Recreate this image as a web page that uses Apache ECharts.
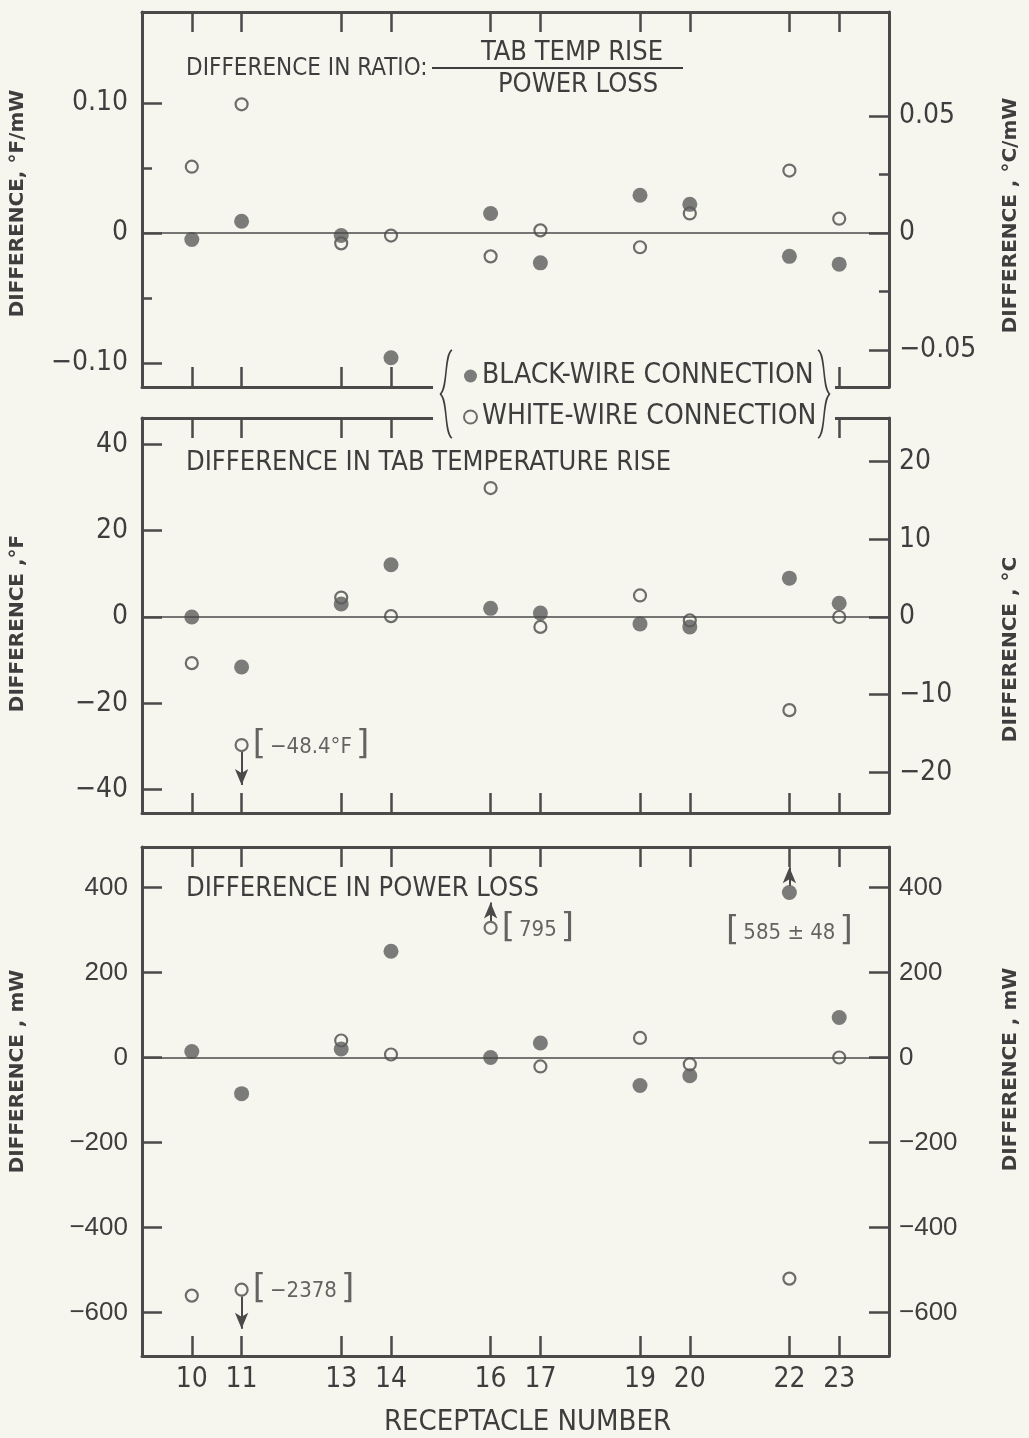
<!DOCTYPE html>
<html>
<head>
<meta charset="utf-8">
<title>Receptacle differences</title>
<script src="https://cdn.jsdelivr.net/npm/echarts@6.0.0/dist/echarts.min.js"></script>
<style>
  html, body { margin: 0; padding: 0; background: #f6f6ef; }
  #chart { width: 1029px; height: 1438px; }
</style>
</head>
<body>
<div id="chart"></div>
<script>
// receptacle numbers on the bottom axis
const receptacles = [10, 11, 13, 14, 16, 17, 19, 20, 22, 23];

// difference in ratio tab temp rise / power loss, °F/mW
const ratioBlack = [-0.005, 0.009, -0.002, -0.096, 0.015, -0.023, 0.029, 0.022, -0.018, -0.024];
const ratioWhite = [0.051, 0.099, -0.008, -0.002, -0.018, 0.002, -0.011, 0.015, 0.048, 0.011];

// difference in tab temperature rise, °F
const tempBlack = [0, -11.6, 3.0, 12.1, 2.0, 0.9, -1.6, -2.3, 9.0, 3.2];
const tempWhite = [-10.7, -29.7, 4.5, 0.2, 29.9, -2.3, 5.0, -0.8, -21.6, 0];

// difference in power loss, mW
const powerBlack = [14, -85, 20, 250, 0, 34, -66, -43, 388, 94];
const powerWhite = [-560, -546, 40, 7, 305, -21, 46, -16, -520, 0];

// tick labels
const ratioTicksF = [-0.1, 0, 0.1];
const ratioMinorF = [-0.05, 0.05];
const ratioTicksC = [-0.05, 0, 0.05];
const ratioMinorC = [-0.025, 0.025];
const tempTicksF = [-40, -20, 0, 20, 40];
const tempTicksC = [-20, -10, 0, 10, 20];
const powerTicks = [-600, -400, -200, 0, 200, 400];

// points drawn at the edge of the plot, true value given in brackets
const offScale = [
  { panel: 1, wire: 'white', receptacle: 11, text: '\u221248.4\u00b0F', dir: -1 },
  { panel: 2, wire: 'white', receptacle: 11, text: '\u22122378', dir: -1 },
  { panel: 2, wire: 'white', receptacle: 16, text: '795', dir: 1 },
  { panel: 2, wire: 'black', receptacle: 22, text: '585 \u00b1 48', dir: 1 }
];

const bg = '#f6f6ef';
const ink = '#3e3e3e';
const frame = '#4a4a4a';
const narrow = '"Liberation Sans Narrow", "DejaVu Sans Condensed", "Liberation Sans", sans-serif';
const wide = '"Liberation Sans", "DejaVu Sans", sans-serif';

// layout of the three panels (pixels) and their left-axis ranges
// shiftL / shiftR move the side titles along the axis (px, + is up)
const panels = [
  { top: 12, height: 375, min: -0.1185, max: 0.170, k: 1.8, ticks: ratioTicksF, rTicks: ratioTicksC,
    nameL: 'DIFFERENCE, \u00b0F/mW', nameR: 'DIFFERENCE , \u00b0C/mW', font: narrow, shiftL: -4, shiftR: -16 },
  { top: 418, height: 395, min: -45.45, max: 46.14, k: 1.8, ticks: tempTicksF, rTicks: tempTicksC,
    nameL: 'DIFFERENCE ,\u00b0F', nameR: 'DIFFERENCE , \u00b0C', font: narrow, shiftL: -8, shiftR: -34 },
  { top: 847, height: 522, min: -702, max: 495, k: 1, ticks: powerTicks, rTicks: powerTicks,
    nameL: 'DIFFERENCE , mW', nameR: 'DIFFERENCE , mW', font: wide, shiftL: 30, shiftR: 32 }
];

function fmt(v) {
  let s;
  if (v === 0) s = '0';
  else if (Math.abs(v) < 1) s = Math.abs(v).toFixed(2);
  else s = String(Math.abs(v));
  return v < 0 ? '\u2212' + s : s;
}

function namePad(shift) {
  // padding on one end of the rotated text slides it along the axis
  return shift >= 0 ? [0, 0, 0, shift * 2] : [0, -shift * 2, 0, 0];
}

const grid = [];
const xAxis = [];
const yAxis = [];
const series = [];

panels.forEach(function (p, i) {
  grid.push({ left: 138, right: 132, top: p.top, height: p.height, containLabel: false });
  const last = i === panels.length - 1;
  ['bottom', 'top'].forEach(function (pos) {
    xAxis.push({
      gridIndex: i, type: 'value', position: pos, min: 9, max: 24,
      axisLine: { show: true, onZero: false, lineStyle: { color: frame, width: 3 } },
      axisTick: { show: true, inside: true, length: 20, customValues: receptacles,
        lineStyle: { color: frame, width: 2.5 } },
      axisLabel: { show: last && pos === 'bottom', customValues: receptacles, margin: 10,
        fontFamily: narrow, fontSize: 28, color: ink },
      splitLine: { show: false },
      name: last && pos === 'bottom' ? 'RECEPTACLE NUMBER' : '',
      nameLocation: 'middle', nameGap: 52,
      nameTextStyle: { fontFamily: narrow, fontSize: 29, color: ink, padding: [0, 0, 0, 24] }
    });
  });
  const nameStyle = { fontFamily: 'DejaVu Sans', fontWeight: 'bold', fontSize: 20, color: ink };
  p.yLeft = yAxis.length;
  yAxis.push({
    gridIndex: i, type: 'value', position: 'left', min: p.min, max: p.max,
    axisLine: { show: true, onZero: false, lineStyle: { color: frame, width: 3 } },
    axisTick: { show: true, inside: true, length: 20, customValues: p.ticks,
      lineStyle: { color: frame, width: 2.5 } },
    axisLabel: { customValues: p.ticks, formatter: fmt, margin: 14,
      fontFamily: p.font, fontSize: i === 2 ? 26 : 28, color: ink },
    splitLine: { show: false },
    name: p.nameL, nameLocation: 'middle', nameRotate: 90, nameGap: 114,
    nameTextStyle: Object.assign({ padding: namePad(p.shiftL) }, nameStyle)
  });
  yAxis.push({
    gridIndex: i, type: 'value', position: 'right', min: p.min / p.k, max: p.max / p.k,
    axisLine: { show: true, onZero: false, lineStyle: { color: frame, width: 3 } },
    axisTick: { show: true, inside: true, length: 20, customValues: p.rTicks,
      lineStyle: { color: frame, width: 2.5 } },
    axisLabel: { customValues: p.rTicks, formatter: fmt, margin: 10,
      fontFamily: p.font, fontSize: i === 2 ? 26 : 28, color: ink },
    splitLine: { show: false },
    name: p.nameR, nameLocation: 'middle', nameRotate: 90, nameGap: 112,
    nameTextStyle: Object.assign({ padding: namePad(p.shiftR) }, nameStyle)
  });
  if (i === 0) {
    // short minor ticks in the ratio panel
    [['left', 1, ratioMinorF], ['right', p.k, ratioMinorC]].forEach(function (m) {
      yAxis.push({
        gridIndex: 0, type: 'value', position: m[0], min: p.min / m[1], max: p.max / m[1],
        axisLine: { show: false },
        axisTick: { show: true, inside: true, length: 10, customValues: m[2],
          lineStyle: { color: frame, width: 2.5 } },
        axisLabel: { show: false }, splitLine: { show: false }
      });
    });
  }
});

const ppu = panels.map(function (p) { return p.height / (p.max - p.min); });

function makeSeries(panel, wire, values) {
  const black = wire === 'black';
  const marks = [];
  const data = receptacles.map(function (r, j) {
    const note = offScale.find(function (o) {
      return o.panel === panel && o.wire === wire && o.receptacle === r;
    });
    if (!note) return [r, values[j]];
    const v = values[j];
    const len = note.dir < 0 ? 40 : 26;
    marks.push([
      { coord: [r, v + note.dir * 7 / ppu[panel]], symbol: 'none' },
      { coord: [r, v + note.dir * len / ppu[panel]], symbol: 'arrow' }
    ]);
    const below = note.dir > 0 && black;
    return {
      value: [r, v],
      label: {
        show: true, position: below ? 'bottom' : 'right', distance: below ? 14 : 2,
        formatter: '{b|[}{t|' + note.text + '}{b|]}',
        rich: {
          b: { fontFamily: 'DejaVu Sans', fontSize: 34, color: ink, padding: [0, 2] },
          t: { fontFamily: narrow, fontSize: 22, color: ink, padding: [4, 2, 0, 2] }
        }
      }
    };
  });
  const s = {
    name: black ? 'BLACK-WIRE CONNECTION' : 'WHITE-WIRE CONNECTION',
    type: 'scatter', xAxisIndex: panel * 2, yAxisIndex: panels[panel].yLeft,
    data: data, symbol: 'circle', symbolSize: black ? 15 : 12, z: black ? 4 : 3,
    itemStyle: black ? { color: '#5c5c5c' } : { color: bg, borderColor: frame, borderWidth: 2.2 },
    markLine: {
      silent: true, symbol: ['none', 'arrow'], symbolSize: [10, 16],
      label: { show: false },
      lineStyle: { color: frame, width: 2, type: 'solid' },
      data: marks.slice()
    }
  };
  if (!black) {
    // zero line across the panel
    s.markLine.data.push({ yAxis: 0, symbol: 'none', lineStyle: { width: 1.5 } });
    s.markLine.symbol = 'none';
  }
  return s;
}

series.push(makeSeries(0, 'white', ratioWhite), makeSeries(0, 'black', ratioBlack));
series.push(makeSeries(1, 'white', tempWhite), makeSeries(1, 'black', tempBlack));
series.push(makeSeries(2, 'white', powerWhite), makeSeries(2, 'black', powerBlack));

function label(text, x, y, size, align) {
  return {
    type: 'text', x: x, y: y, z: 6,
    style: { text: text, font: size + 'px ' + narrow, fill: ink,
      align: align || 'left', textAlign: align || 'left',
      verticalAlign: 'middle', textVerticalAlign: 'middle' }
  };
}

function brace(x, dir) {
  const tip = x - dir * 8;
  return [
    { type: 'bezierCurve', z: 6,
      shape: { x1: x + dir * 4, y1: 350, cpx1: x - dir * 4, cpy1: 354, cpx2: x, cpy2: 390, x2: tip, y2: 394 },
      style: { stroke: ink, lineWidth: 1.6, fill: null } },
    { type: 'bezierCurve', z: 6,
      shape: { x1: tip, y1: 394, cpx1: x, cpy1: 398, cpx2: x - dir * 4, cpy2: 434, x2: x + dir * 4, y2: 438 },
      style: { stroke: ink, lineWidth: 1.6, fill: null } }
  ];
}

const chart = echarts.init(document.getElementById('chart'));
chart.setOption({
  backgroundColor: bg,
  animation: false,
  grid: grid,
  xAxis: xAxis,
  yAxis: yAxis,
  legend: {
    orient: 'vertical', left: 458, top: 357, itemGap: 13, z: 6,
    itemWidth: 13, itemHeight: 13, selectedMode: false,
    data: ['BLACK-WIRE CONNECTION', 'WHITE-WIRE CONNECTION'],
    textStyle: { fontFamily: narrow, fontSize: 28, color: ink, padding: [0, 0, 0, 0] }
  },
  graphic: [
    // gap in the frames where the key sits
    { type: 'rect', z: 3, shape: { x: 433, y: 350, width: 402, height: 90 }, style: { fill: bg } },
    label('DIFFERENCE IN RATIO:', 186, 69, 24),
    label('TAB TEMP RISE', 572, 53, 27, 'center'),
    { type: 'line', z: 6, shape: { x1: 432, y1: 68, x2: 683, y2: 68 }, style: { stroke: ink, lineWidth: 2 } },
    label('POWER LOSS', 578, 85, 27, 'center'),
    label('DIFFERENCE IN TAB TEMPERATURE RISE', 186, 463, 27),
    label('DIFFERENCE IN POWER LOSS', 186, 889, 27)
  ].concat(brace(448, 1), brace(822, -1)),
  series: series
});
</script>
</body>
</html>
